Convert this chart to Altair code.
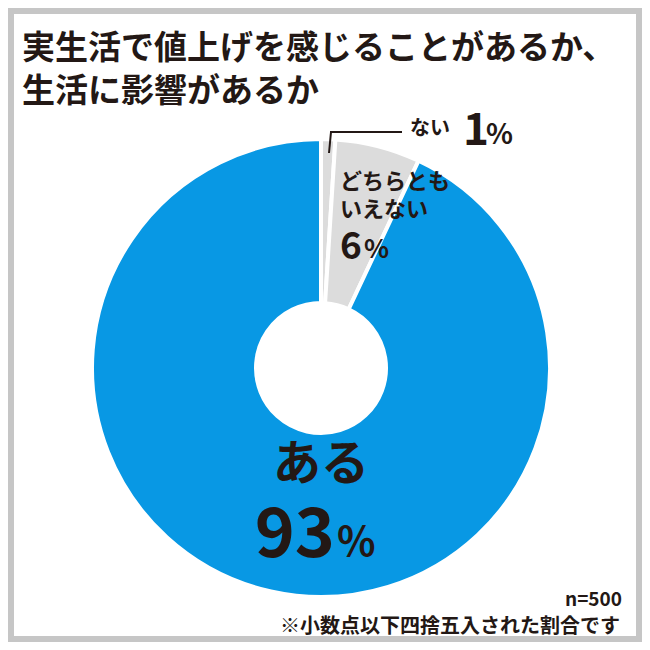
import altair as alt
import pandas as pd

# ---- data ----
categories = ["ない", "どちらともいえない", "ある"]
values = [1, 6, 93]
slice_order = [0, 1, 2]
colors = ["#dcdcdc", "#dcdcdc", "#0898e4"]

title_lines = ["実生活で値上げを感じることがあるか、", "生活に影響があるか"]
label_nai = ["ない", "1", "%"]
label_dochira = ["どちらとも", "いえない", "6", "%"]
label_aru = ["ある", "93", "%"]
note_n = "n=500"
note_text = "※小数点以下四捨五入された割合です"

FONT = "Noto Sans CJK JP"
W = H = 634
CX, CY = 313, 360

df = pd.DataFrame({"category": categories, "value": values, "order": slice_order})
one = pd.DataFrame({"d": [0]})

border = alt.Chart(one).mark_rect(fillOpacity=0, stroke="#c6c6c6", strokeWidth=6).encode(
    x=alt.value(3), x2=alt.value(W - 3), y=alt.value(3), y2=alt.value(H - 3)
)

arcs = alt.Chart(df).mark_arc(radius=229, radius2=65, stroke="white", strokeWidth=4).encode(
    theta=alt.Theta("value:Q", stack=True),
    order=alt.Order("order:Q"),
    color=alt.Color("category:N", scale=alt.Scale(domain=categories, range=colors), legend=None),
    x=alt.value(CX),
    y=alt.value(CY),
)


def txt(text, x, y, size, align="left", baseline="middle", weight="bold"):
    return alt.Chart(one).mark_text(
        font=FONT, fontSize=size, fontWeight=weight, align=align, baseline=baseline, color="#231815"
    ).encode(x=alt.value(x), y=alt.value(y), text=alt.value(text))


leader1 = alt.Chart(one).mark_rule(color="#231815", strokeWidth=2).encode(
    x=alt.value(321), y=alt.value(145), x2=alt.value(323), y2=alt.value(124)
)
leader2 = alt.Chart(one).mark_rule(color="#231815", strokeWidth=2).encode(
    x=alt.value(322), y=alt.value(124), x2=alt.value(394), y2=alt.value(124)
)

layers = [
    border,
    arcs,
    leader1,
    leader2,
    txt(title_lines[0], 14, 41, 33),
    txt(title_lines[1], 14, 84, 33),
    txt(label_nai[0], 402, 121, 20),
    txt(label_nai[1], 455, 137, 44, baseline="alphabetic"),
    txt(label_nai[2], 478, 136, 28, baseline="alphabetic"),
    txt(label_dochira[0], 332, 174, 22),
    txt(label_dochira[1], 332, 202, 22),
    txt(label_dochira[2], 332, 251, 37, baseline="alphabetic"),
    txt(label_dochira[3], 356, 250, 26, baseline="alphabetic"),
    txt(label_aru[0], CX, 458, 48, align="center"),
    txt(label_aru[1], 327, 549, 68, align="right", baseline="alphabetic"),
    txt(label_aru[2], 329, 548, 40, baseline="alphabetic"),
    txt(note_n, 614, 592, 19, align="right"),
    txt(note_text, 612, 619, 20, align="right"),
]

chart = alt.layer(*layers).properties(
    width=W, height=H, padding=0, autosize="none", background="white"
).configure_view(stroke=None)

chart.save("out.html", embed_options={"renderer": "svg", "actions": False})
